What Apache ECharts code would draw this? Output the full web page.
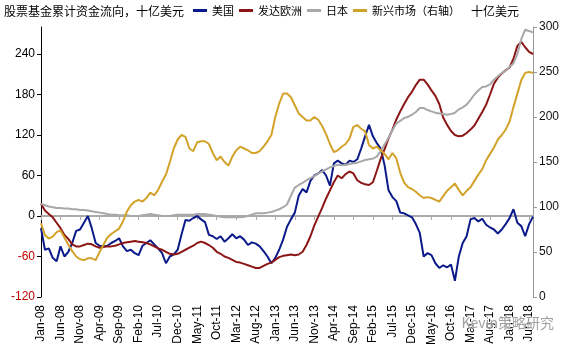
<!DOCTYPE html>
<html>
<head>
<meta charset="utf-8">
<script src="https://cdn.jsdelivr.net/npm/echarts@6/dist/echarts.min.js"></script>
<style>
  html, body { margin: 0; padding: 0; background: #fff; }
  #chart { width: 570px; height: 350px; }
</style>
</head>
<body>
<div id="chart"></div>
<script>
// Monthly axis Jan-08 .. Jul-18
const monthNames = ['Jan','Feb','Mar','Apr','May','Jun','Jul','Aug','Sep','Oct','Nov','Dec'];
const categories = [];
for (let y = 2008; y <= 2018; y++) {
  for (let m = 0; m < 12; m++) {
    if (y === 2018 && m > 6) break;
    categories.push(monthNames[m] + '-' + String(y).slice(2));
  }
}

// Cumulative equity fund flows, USD bn (left axis)
const usFlows = [
  -18, -50, -48, -62, -67, -45, -60, -53, -40, -22,
  -20, -10, 0, -18, -40, -44, -45, -44, -40, -37,
  -33, -45, -52, -50, -55, -58, -44, -40, -36, -42,
  -48, -55, -70, -60, -57, -50, -27, -6, -7, -3,
  0, -5, -9, -28, -30, -34, -30, -38, -33, -27,
  -33, -30, -35, -43, -39, -41, -45, -52, -60, -70,
  -62, -50, -35, -16, -5, 5, 30, 40, 35, 52,
  60, 63, 68, 60, 45, 78, 82, 78, 76, 82,
  80, 84, 100, 118, 135, 118, 108, 100, 75, 38,
  28, 22, 5, 4, 1, -2, -12, -25, -60, -55,
  -58, -70, -77, -73, -76, -72, -96, -60, -40, -30,
  -5, -3, -8, -4, -13, -17, -20, -26, -20, -12,
  -3, 10, -10, -15, -30, -12, -1
];
const europeFlows = [
  18, 8, 3, -2, -10, -18, -28, -34, -42, -45,
  -45, -43, -41, -42, -45, -47, -46, -45, -45, -44,
  -42, -40, -39, -38, -37, -38, -39, -40, -42, -45,
  -48, -50, -53, -56, -57, -56, -53, -50, -47, -44,
  -40, -38, -40, -43, -47, -53, -56, -60, -62, -65,
  -68, -69, -71, -73, -75, -77, -77, -74, -71, -69,
  -65, -61, -59, -58, -57, -58, -57, -53, -43, -30,
  -14, -1, 12, 26, 38, 50, 60, 56, 62, 66,
  63, 53, 49, 47, 46, 50, 67, 85, 99, 115,
  128, 143, 155, 166, 176, 184, 194, 202, 202, 195,
  186, 178, 166, 146, 135, 126, 120, 118, 119, 123,
  128, 134, 144, 154, 165, 180, 196, 205, 211, 216,
  220, 233, 252, 258, 250, 243, 240
];
const japanFlows = [
  18, 16, 14, 13, 12, 12, 11, 11, 10, 10,
  9, 9, 8, 7, 6, 5, 4, 3, 2, 2,
  1, 1, 1, 0, 0, 0, 1, 2, 3, 2,
  1, 0, 0, 0, 1, 2, 2, 2, 2, 2,
  3, 3, 3, 2, 1, 0, -1, -2, -2, -2,
  -2, -2, -1, 0, 2, 4, 4, 4, 5, 6,
  8, 10, 13, 17, 30, 42, 46, 49, 53, 56,
  59, 63, 66, 69, 72, 74, 76, 75, 76, 77,
  78, 79, 81, 83, 84, 85, 88, 96, 106, 116,
  127, 137, 141, 145, 147, 150, 154, 160, 160, 157,
  155, 153, 152, 151, 150, 151, 153, 158, 161, 165,
  172, 180, 186, 191, 192, 195, 202, 207, 212, 215,
  221, 226, 240, 262, 276, 274, 272
];
// Emerging markets, right axis
const emFlows = [
  82, 69, 65, 67, 72, 74, 66, 58, 51, 45,
  42, 41, 43, 43, 41, 50, 58, 66, 70, 73,
  76, 84, 95, 102, 106, 108, 106, 110, 116, 113,
  119, 128, 136, 150, 165, 175, 180, 178, 165, 162,
  172, 173, 173, 170, 160, 152, 156, 150, 146, 156,
  163, 167, 165, 163, 160, 160, 162, 167, 173, 180,
  200, 215, 226, 226, 222, 213, 204, 200, 196, 196,
  200, 197, 190, 181, 170, 161, 163, 167, 170, 176,
  189, 191, 187, 184, 169, 165, 167, 163, 159, 153,
  160, 154, 138, 127, 122, 120, 117, 113, 110, 111,
  110, 108, 106, 112, 118, 122, 126, 119, 113, 118,
  122, 129, 136, 142, 152, 159, 166, 175, 180, 186,
  195, 211, 226, 241, 249, 250, 249
];

const seriesNames = ['美国', '发达欧洲', '日本', '新兴市场（右轴）'];
const seriesColors = ['#0b1a8a', '#8c1616', '#a8a8a8', '#d2a22a'];

const numFont = 'Liberation Sans, Arial, sans-serif';
const cjkFont = 'Noto Sans CJK SC, sans-serif';

const chart = echarts.init(document.getElementById('chart'), null, { renderer: 'canvas' });

function lineSeries(idx, data, yIdx) {
  return {
    name: seriesNames[idx],
    type: 'line',
    data: data,
    xAxisIndex: 0,
    yAxisIndex: yIdx,
    showSymbol: false,
    symbol: 'none',
    lineStyle: { width: 2, color: seriesColors[idx] },
    itemStyle: { color: seriesColors[idx] },
    z: 3 + idx
  };
}

chart.setOption({
  animation: false,
  backgroundColor: '#fff',
  title: [
    {
      text: '股票基金累计资金流向，十亿美元',
      left: 4, top: 5, padding: 0,
      textStyle: { fontFamily: cjkFont, fontSize: 12, fontWeight: 'normal', color: '#000' }
    },
    {
      text: '十亿美元',
      left: 471, top: 5, padding: 0,
      textStyle: { fontFamily: cjkFont, fontSize: 12, fontWeight: 'normal', color: '#000' }
    }
  ],
  legend: {
    data: seriesNames,
    left: 193, top: 5, padding: 0,
    icon: 'rect',
    itemWidth: 14, itemHeight: 3,
    itemGap: 5,
    textStyle: { fontFamily: cjkFont, fontSize: 11, color: '#000' }
  },
  grid: { left: 41, right: 37, top: 27, bottom: 53, containLabel: false },
  xAxis: [
    {
      type: 'category',
      data: categories,
      boundaryGap: false,
      position: 'bottom',
      axisLine: { show: false, onZero: false },
      axisTick: { show: false },
      axisLabel: {
        rotate: 90, interval: 4, margin: 8,
        fontFamily: numFont, fontSize: 12, color: '#000'
      },
      splitLine: { show: false }
    },
    {
      type: 'category',
      data: categories,
      boundaryGap: false,
      position: 'bottom',
      axisLine: { show: true, onZero: true, onZeroAxisIndex: 0, lineStyle: { color: '#aaaaaa', width: 2 } },
      axisTick: { show: true, interval: 4, length: 4, lineStyle: { color: '#aaaaaa', width: 1 } },
      axisLabel: { show: false },
      splitLine: { show: false }
    }
  ],
  yAxis: [
    {
      type: 'value',
      min: -120, max: 280, interval: 60,
      position: 'left',
      axisLine: { show: true, onZero: false, lineStyle: { color: '#000', width: 1 } },
      axisTick: { show: true, length: 4, lineStyle: { color: '#000' } },
      axisLabel: {
        showMaxLabel: false,
        margin: 6,
        fontFamily: numFont, fontSize: 12,
        color: function (v) { return Number(v) < 0 ? '#c00000' : '#000'; }
      },
      splitLine: { show: false }
    },
    {
      type: 'value',
      min: 0, max: 300, interval: 50,
      position: 'right',
      axisLine: { show: true, onZero: false, lineStyle: { color: '#9a9a9a', width: 1 } },
      axisTick: { show: true, length: 4, lineStyle: { color: '#9a9a9a' } },
      axisLabel: { margin: 6, fontFamily: numFont, fontSize: 12, color: '#111' },
      splitLine: { show: false }
    }
  ],
  series: [
    lineSeries(0, usFlows, 0),
    lineSeries(1, europeFlows, 0),
    lineSeries(2, japanFlows, 0),
    lineSeries(3, emFlows, 1)
  ],
  graphic: [
    {
      type: 'text',
      left: 461, top: 315, z: 100,
      style: {
        text: 'Kevin策略研究',
        font: '14px ' + cjkFont,
        fill: 'rgba(130,130,130,0.75)',
        stroke: 'rgba(255,255,255,0.8)',
        lineWidth: 1
      }
    }
  ]
});
</script>
</body>
</html>
